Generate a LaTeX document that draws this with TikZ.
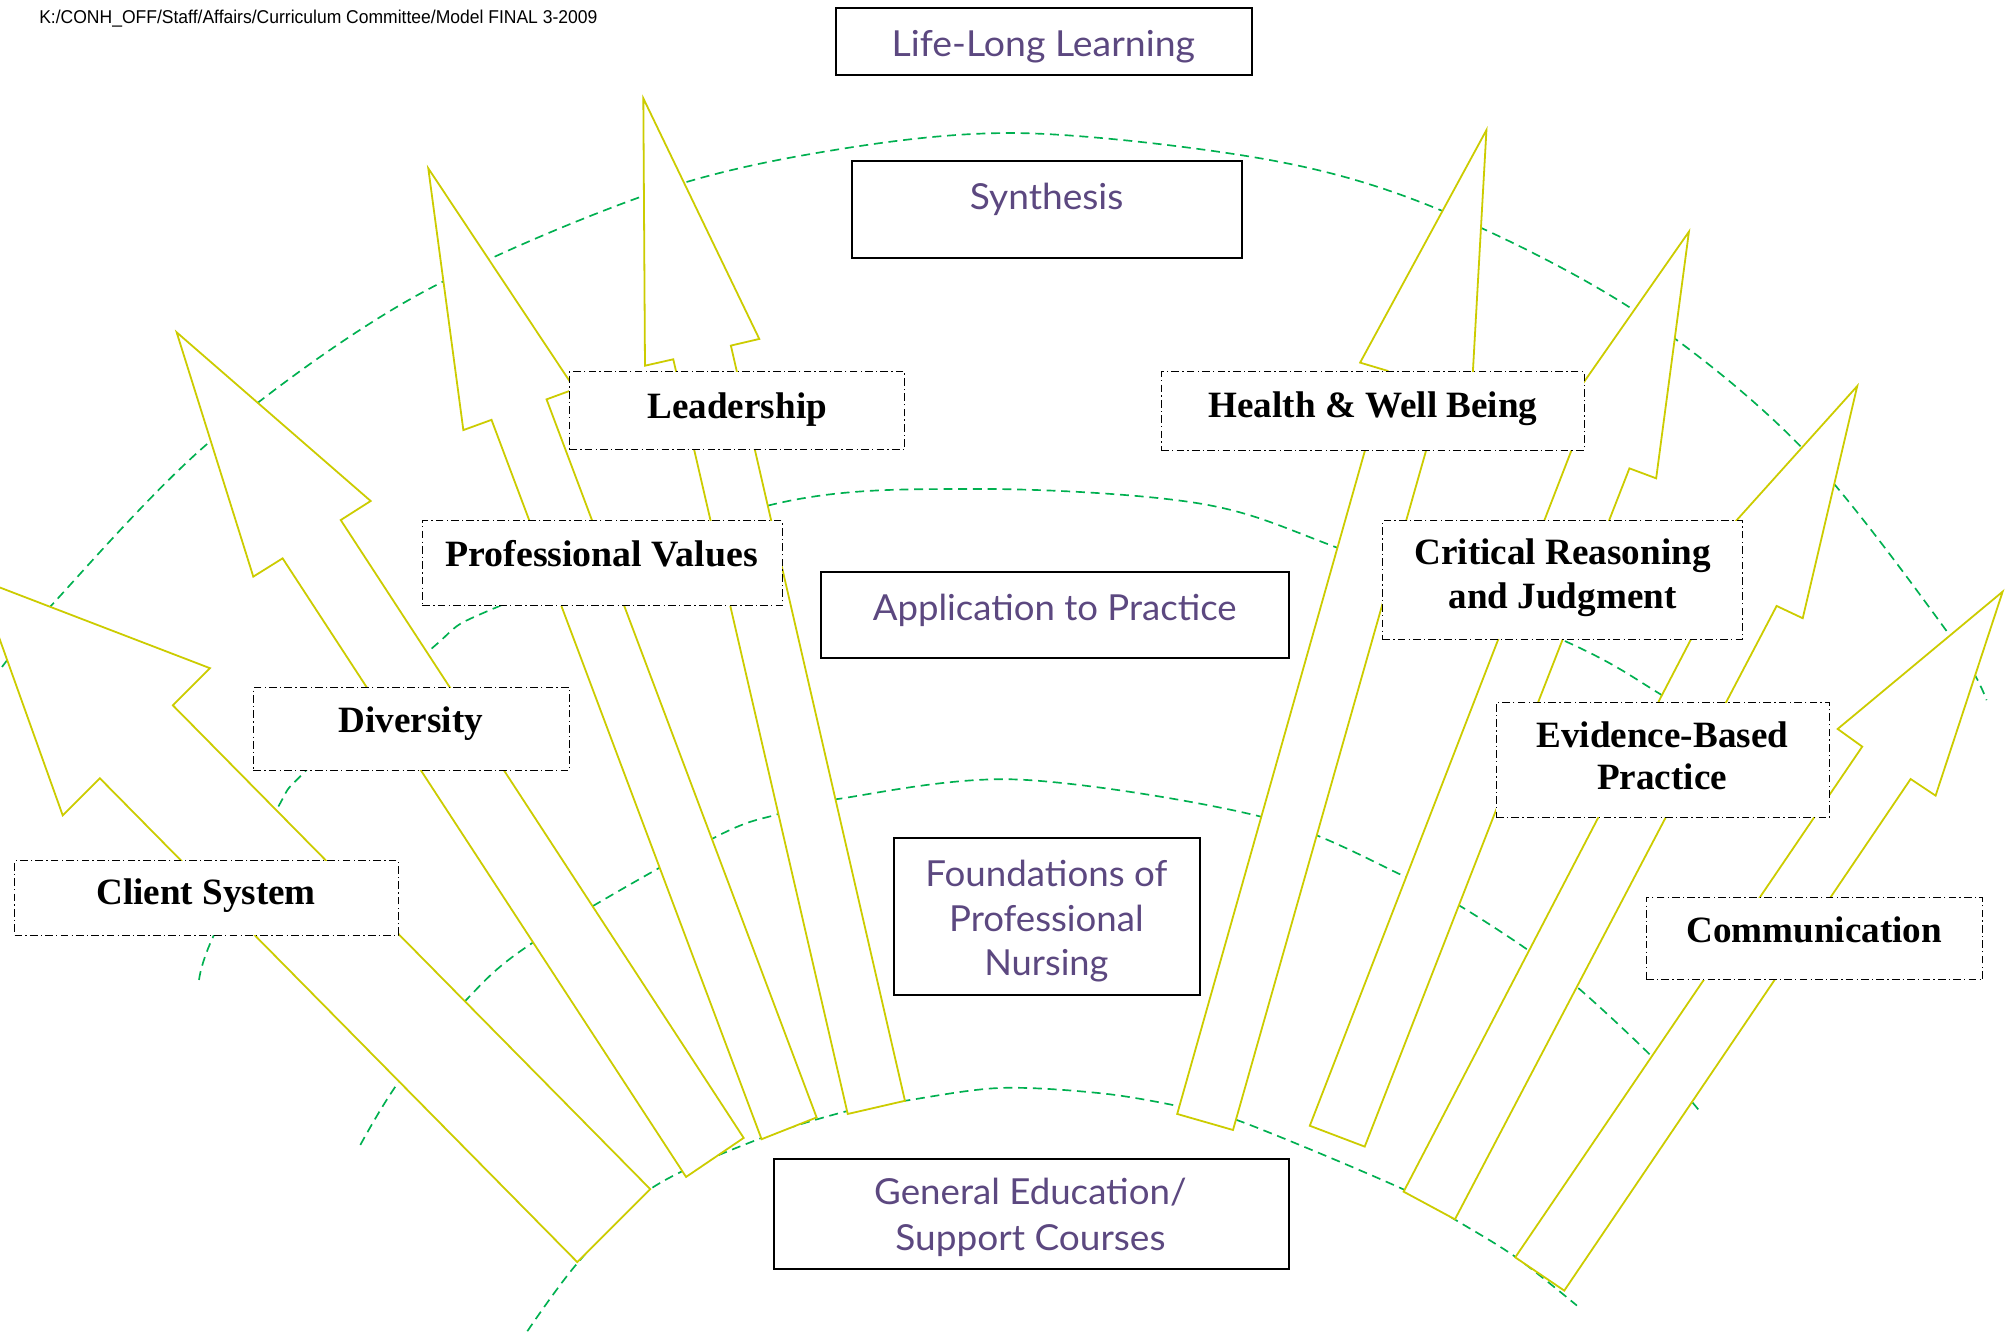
\documentclass[tikz,border=0pt]{standalone}
\usepackage{fontspec}
\usepackage{graphicx}
\setmainfont{Liberation Serif}
\newfontfamily\purplefont{Lato}
\newfontfamily\headfont{Liberation Sans}
\definecolor{arrowyellow}{RGB}{204,204,0}
\definecolor{arcgreen}{RGB}{0,176,80}
\definecolor{levelpurple}{RGB}{92,72,128}
\newcommand\lvltxt[2]{\resizebox{#1}{\height}{\purplefont\fontsize{28}{34}\selectfont #2}}
\tikzset{
  levelarc/.style={arcgreen, line width=1.3pt, dash pattern=on 7pt off 4.5pt},
  blockarrow/.style={draw=arrowyellow, fill=white, line width=1.4pt, line join=miter},
  levelbox/.style={draw=black, fill=white, line width=1.5pt, inner sep=0pt},
  themebox/.style={draw=black, fill=white, line width=0.8pt, dash pattern=on 6pt off 2.5pt on 1pt off 2.5pt, inner sep=0pt},
  leveltext/.style={text=levelpurple, inner sep=0pt, anchor=base},
  themetext/.style={text=black, font=\bfseries\fontsize{29}{34}\selectfont, inner sep=0pt, anchor=base},
}
\begin{document}
\begin{tikzpicture}[x=1pt,y=-1pt]
\useasboundingbox (0,0) rectangle (1568,1042);
\fill[white] (0,0) rectangle (1568,1042);
\begin{scope}
\clip (0,0) rectangle (1568,1042);
% dashed level arcs
\draw[levelarc] plot[smooth, tension=0.55] coordinates {(-20,548) (0,523) (42,471) (164,345) (320,234) (500,154) (641,119) (797,104) (992,125) (1125,164) (1276,242) (1407,349) (1523,496) (1552,547)};
\draw[levelarc] plot[smooth, tension=0.55] coordinates {(155.5,765.6) (166,733) (217,631) (239,602) (338,506) (389,474) (600,395) (760,382) (935,393) (1045,428) (1223,501) (1295,541) (1360,585)};
\draw[levelarc] plot[smooth, tension=0.55] coordinates {(281.5,894.5) (311,846) (363,782.5) (417,736) (557,655) (608,636) (656,624) (795,609) (985,638) (1098,685) (1141,708) (1192,741) (1232,771) (1290,825) (1327,867)};
\draw[levelarc] plot[smooth, tension=0.55] coordinates {(412,1040) (451,987) (508,929) (595,889) (662,868) (707,860) (781,850) (859,854) (920,864) (969,876) (1096,929) (1137,953) (1184,982) (1232,1020)};
% block arrows
\draw[blockarrow] (-17,452.5) -- (164,522) -- (135,551) -- (508,929) -- (451,986) -- (78,608) -- (49,637) -- cycle;
\draw[blockarrow] (138,259.6) -- (289.6,391.4) -- (266.2,406.3) -- (581,889) -- (536,919.5) -- (220.8,436.2) -- (197.9,450.5) -- cycle;
\draw[blockarrow] (334.6,131.5) -- (449.1,303.9) -- (427,312) -- (638,873) -- (595,890) -- (384,328) -- (362,336) -- cycle;
\draw[blockarrow] (502.6,76.8) -- (593.2,264.8) -- (571,270) -- (707,860) -- (662.3,870.3) -- (526,280.7) -- (503.9,285.7) -- cycle;
\draw[blockarrow] (1161.3,101.6) -- (1149.7,308.3) -- (1128.2,302.5) -- (963.3,882.8) -- (919.7,870.3) -- (1084,289.7) -- (1062.6,283.3) -- cycle;
\draw[blockarrow] (1319.5,181) -- (1293.9,373.7) -- (1273,365.9) -- (1066.2,895.8) -- (1023.3,879.5) -- (1228.9,348.8) -- (1208.2,340.4) -- cycle;
\draw[blockarrow] (1451,301.6) -- (1408.4,483) -- (1388,473.4) -- (1136.7,952.6) -- (1096.6,931) -- (1346.1,451.4) -- (1326.6,440) -- cycle;
\draw[blockarrow] (1564.6,462.2) -- (1512.2,621.6) -- (1492.7,608.6) -- (1222.1,1008.3) -- (1183.8,982.3) -- (1454.9,583.3) -- (1435.7,569.5) -- cycle;
\end{scope}
% level boxes
\node[levelbox, minimum width=325.5pt, minimum height=52.1pt] (lll) at (815.65,32.55) {};
\node[levelbox, minimum width=304.4pt, minimum height=75.5pt] (syn) at (817.8,163.55) {};
\node[levelbox, minimum width=365.2pt, minimum height=67.2pt] (app) at (824.3,480.7) {};
\node[levelbox, minimum width=239pt, minimum height=122.3pt] (fnd) at (817.7,716.15) {};
\node[levelbox, minimum width=402.5pt, minimum height=86pt] (gen) at (806.05,948.7) {};
% theme boxes
\node[themebox, minimum width=262.2pt, minimum height=60.6pt] (lead) at (575.9,320.7) {};
\node[themebox, minimum width=330.4pt, minimum height=61.2pt] (hwb) at (1072.4,321) {};
\node[themebox, minimum width=281pt, minimum height=66.4pt] (pv) at (470.5,440.2) {};
\node[themebox, minimum width=281.2pt, minimum height=92.5pt] (crj) at (1220.6,453.25) {};
\node[themebox, minimum width=260.7pt, minimum height=89.5pt] (ebp) at (1299.15,593.75) {};
\node[themebox, minimum width=263pt, minimum height=64.3pt] (comm) at (1417.5,733.45) {};
\node[themebox, minimum width=246.9pt, minimum height=64.4pt] (div) at (321.45,569.4) {};
\node[themebox, minimum width=300.1pt, minimum height=58.1pt] (cli) at (161.45,701.45) {};
% level texts
\node[leveltext] (lllT) at (815.1,44.3) {\lvltxt{237pt}{Life-Long Learning}};
\node[leveltext] (synT) at (817.7,163.5) {\lvltxt{119.8pt}{Synthesis}};
\node[leveltext] (appT) at (824,484.4) {\lvltxt{284.2pt}{Application to Practice}};
\node[leveltext] (fndT1) at (817.5,692.5) {\lvltxt{189pt}{Foundations of}};
\node[leveltext] (fndT2) at (817.5,727.5) {\lvltxt{152pt}{Professional}};
\node[leveltext] (fndT3) at (817.5,762.5) {\lvltxt{97pt}{Nursing}};
\node[leveltext] (genT1) at (805,941.4) {\lvltxt{244pt}{General Education/}};
\node[leveltext] (genT2) at (805,976.6) {\lvltxt{211pt}{Support Courses}};
% theme texts
\node[themetext] (leadT) at (576,326.8) {Leadership};
\node[themetext] (hwbT) at (1072.7,326.5) {Health \& Well Being};
\node[themetext] (pvT) at (470,442.7) {\resizebox{244pt}{\height}{Professional Values}};
\node[themetext] (crjT1) at (1220.8,441.4) {Critical Reasoning};
\node[themetext] (crjT2) at (1220.8,475.3) {and Judgment};
\node[themetext] (ebpT1) at (1298.7,583.9) {Evidence-Based};
\node[themetext] (ebpT2) at (1298.5,616.7) {Practice};
\node[themetext] (commT) at (1417.4,736.5) {Communication};
\node[themetext] (divT) at (321,572.4) {Diversity};
\node[themetext] (cliT) at (161,707) {Client System};
% header path
\node[anchor=base west, inner sep=0pt] (path) at (30.5,18.2) {\resizebox{436pt}{\height}{\headfont\fontsize{14.5}{17}\selectfont K:/CONH\_OFF/Staff/Affairs/Curriculum Committee/Model FINAL 3-2009}};
\end{tikzpicture}
\end{document}
